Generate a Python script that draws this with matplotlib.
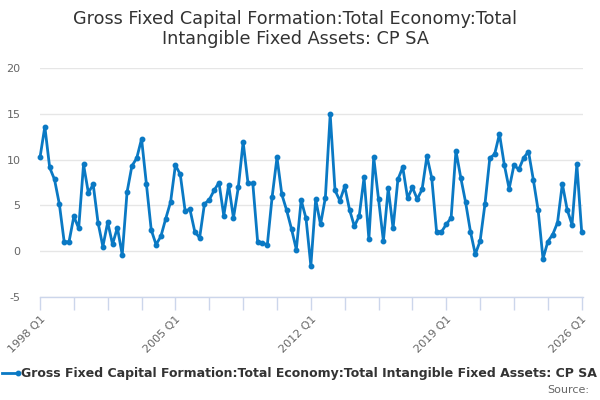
import matplotlib
matplotlib.use("Agg")
import matplotlib.pyplot as plt
import numpy as np

title = "Gross Fixed Capital Formation:Total Economy:Total\nIntangible Fixed Assets: CP SA"
series_name = "Gross Fixed Capital Formation:Total Economy:Total Intangible Fixed Assets: CP SA"

values = [
    10.23, 13.6, 9.14, 7.83, 5.15, 1.02, 1.02, 3.8, 2.5, 9.47,
    6.38, 7.29, 3.12, 0.51, 3.16, 0.76, 2.58, -0.4, 6.45, 9.3,
    10.16, 12.26, 7.33, 2.32, 0.72, 1.63, 3.56, 5.37, 9.4, 8.38,
    4.42, 4.57, 2.14, 1.45, 5.15, 5.62, 6.64, 7.5, 3.88, 7.25,
    3.63, 6.96, 11.93, 7.44, 7.4, 1.02, 0.9, 0.69, 5.95, 10.23,
    6.2, 4.46, 2.43, 0.18, 5.58, 3.59, -1.6, 5.66, 2.92, 5.84,
    14.94, 6.64, 5.51, 7.07, 4.53, 2.72, 3.84, 8.05, 1.31, 10.26,
    5.66, 1.12, 6.86, 2.5, 7.83, 9.17, 5.8, 6.96, 5.69, 6.75,
    10.37, 7.98, 2.1, 2.1, 2.94, 3.63, 10.95, 8.02, 5.33, 2.14,
    -0.33, 1.12, 5.15, 10.16, 10.59, 12.8, 9.43, 6.82, 9.4, 8.92,
    10.19, 10.88, 7.8, 4.46, -0.83, 1.05, 1.81, 3.12, 7.36, 4.53,
    2.9, 9.47, 2.1,
]
categories = [f"{1998 + i // 4} Q{i % 4 + 1}" for i in range(len(values))]
y_ticks = [-5, 0, 5, 10, 15, 20]

line_color = "#0a79c4"
grid_color = "#e6e6e6"
axis_color = "#ccd6eb"

fig = plt.figure(figsize=(6, 4), dpi=100)
ax = fig.add_axes([40 / 600, 103 / 400, 543 / 600, 229 / 400])

x = np.arange(len(values))
ax.plot(x, values, color=line_color, linewidth=2, marker="o", markersize=3.2,
        zorder=3, clip_on=False)

ax.set_ylim(-5, 20)
ax.set_xlim(0, 112.27)
ax.set_yticks(y_ticks)
ax.set_yticklabels([str(v) for v in y_ticks], color="#666666", fontsize=8)
ax.yaxis.grid(True, color=grid_color, linewidth=1)
ax.set_axisbelow(True)
ax.tick_params(axis="y", length=0, pad=14)

tick_pos = list(range(0, len(values), 7))
ax.set_xticks(tick_pos)
ax.set_xticklabels([categories[i] if i % 28 == 0 else "" for i in tick_pos],
                   rotation=45, ha="right", rotation_mode="anchor",
                   color="#666666", fontsize=8)
ax.tick_params(axis="x", length=9, color=axis_color, width=1, pad=3)

for s in ["top", "right", "left"]:
    ax.spines[s].set_visible(False)
ax.spines["bottom"].set_color(axis_color)
ax.spines["bottom"].set_linewidth(1)

fig.text(295 / 600, 1 - 29 / 400, title, ha="center", va="center", fontsize=12.7,
         color="#333333", linespacing=1.2)

# legend
fig.add_artist(matplotlib.lines.Line2D([2 / 600, 18 / 600], [1 - 373 / 400] * 2,
                                       color=line_color, linewidth=2,
                                       marker="o", markersize=3.2,
                                       markevery=[1]))
fig.text(21 / 600, 1 - 373 / 400, series_name, ha="left", va="center",
         fontsize=9, fontweight="bold", color="#333333")
fig.text(589 / 600, 1 - 390 / 400, "Source:", ha="right", va="center",
         fontsize=8, color="#666666")

fig.savefig("out.png", dpi=100)
